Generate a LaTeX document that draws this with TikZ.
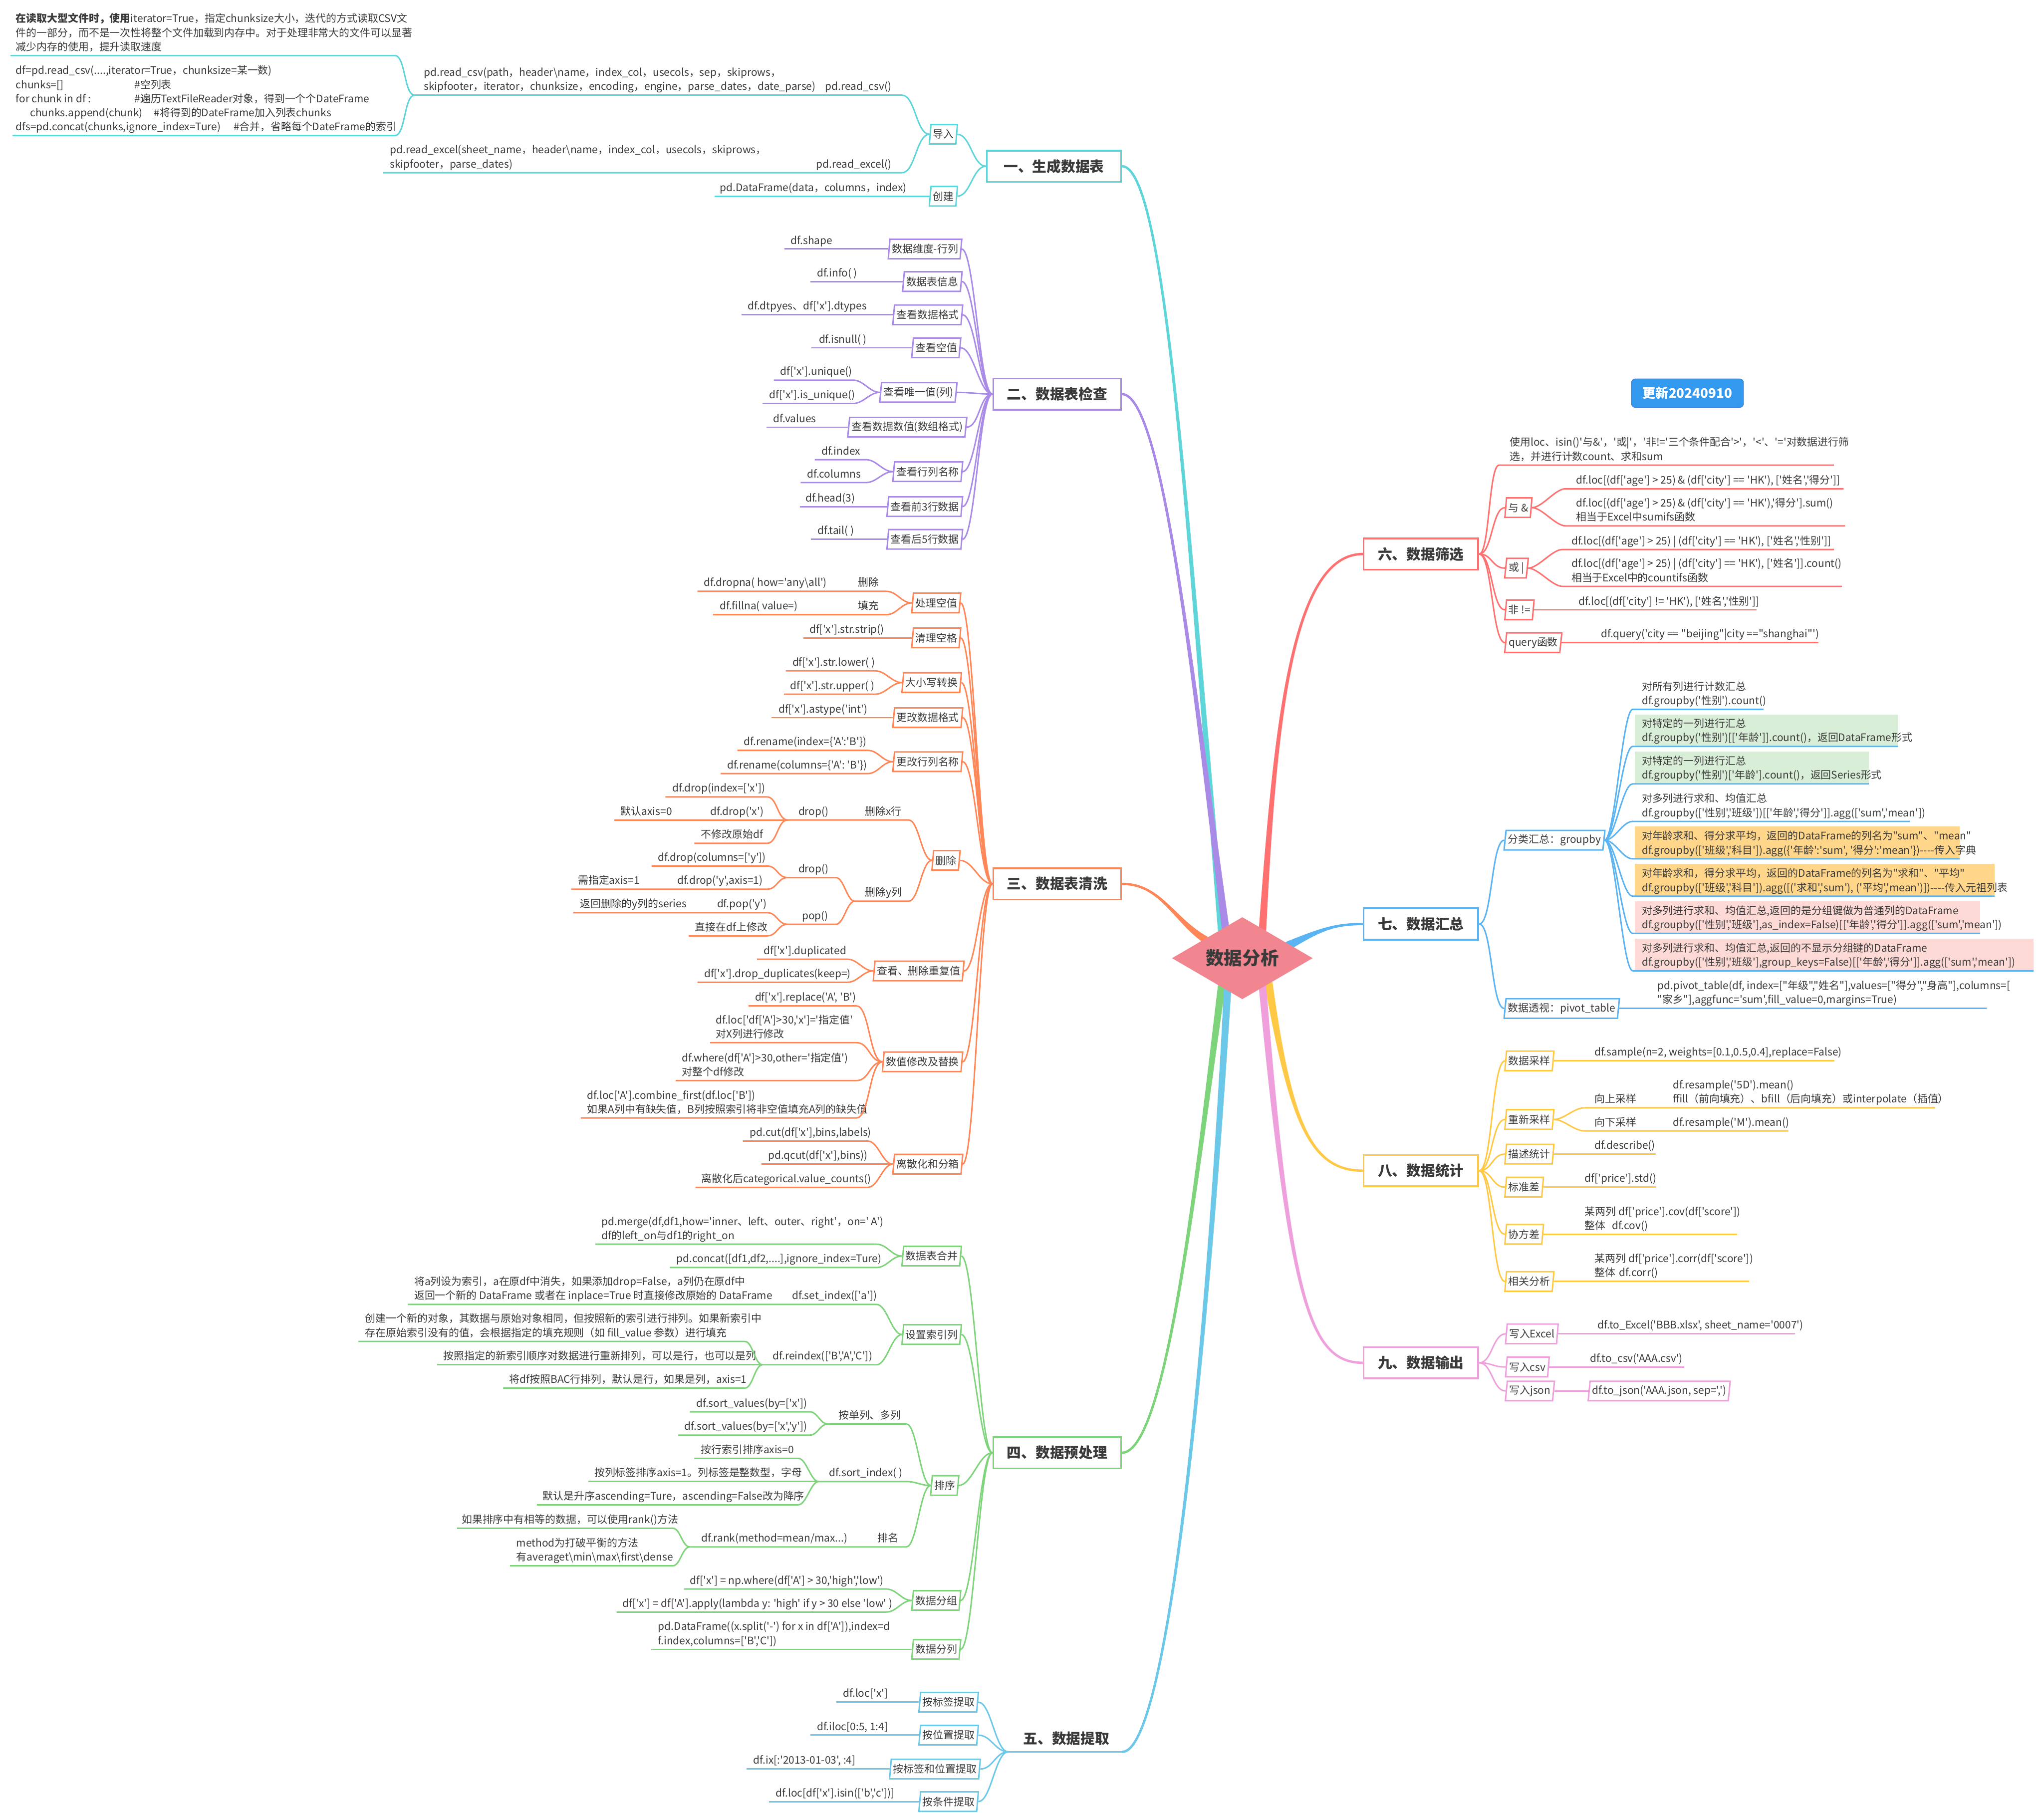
\documentclass[tikz,border=0pt]{standalone}
\usepackage{fontspec}
\setmainfont{Noto Sans CJK SC}[Ligatures=TeXOff]
\usetikzlibrary{shapes.geometric,backgrounds}

\definecolor{ink}{HTML}{3A3A3A}
\definecolor{c1}{HTML}{5ED5D8}
\definecolor{c2}{HTML}{A98AE6}
\definecolor{c3}{HTML}{FF8757}
\definecolor{c4}{HTML}{7ED47A}
\definecolor{c5}{HTML}{6CC8E8}
\definecolor{c6}{HTML}{FF7070}
\definecolor{c7}{HTML}{5AB3F2}
\definecolor{c8}{HTML}{FFC845}
\definecolor{c9}{HTML}{EFA0DC}
\definecolor{hubc}{HTML}{F28690}
\definecolor{badgec}{HTML}{3399EE}
\definecolor{gfill}{HTML}{D9EED6}
\definecolor{ofill}{HTML}{FFD68A}
\definecolor{pfill}{HTML}{FDDAD5}
\colorlet{br}{black}

\tikzset{
  leaf/.style={anchor=south west, inner sep=0pt, text depth=2pt, yshift=1.6pt,
    align=left, text=ink, font=\fontsize{8}{10.8}\selectfont},
  uline/.style={draw=br, line width=1.1pt, line join=round},
  brlink/.style={to path={.. controls +(#1,0) and +(-#1,0) .. (\tikztotarget)}},
  brlink/.default=10,
  subtopic/.style={trapezium, trapezium left angle=80, trapezium right angle=100,
    trapezium stretches=true, draw=br, fill=white, line width=1.1pt, text=ink,
    font=\fontsize{8}{10}\selectfont, inner xsep=1.5pt, inner ysep=0pt,
    minimum height=15pt, anchor=west},
  maintopic/.style={draw=br, fill=white, line width=1.4pt, text=ink,
    font=\fontsize{11}{13}\selectfont\bfseries, minimum height=24pt, inner xsep=8pt},
  trunk/.style={line width=1.8pt, line join=round},
  hub/.style={diamond, aspect=2, fill=hubc, text=ink, font=\fontsize{14}{16}\selectfont\bfseries,
    minimum width=108pt, minimum height=63pt, inner sep=0pt},
  badge/.style={rounded corners=3pt, fill=badgec, draw=badgec!80!violet, text=white,
    font=\fontsize{10}{12}\selectfont\bfseries, minimum width=86pt, minimum height=22pt}
}

% name, line start x, line end x, line y, text x, text
\newcommand{\mmleaf}[7][]{%
  \coordinate (#2l) at (#3,#5);
  \coordinate (#2r) at (#4,#5);
  \node[leaf,#1] (#2) at (#6,#5) {#7};
}

\begin{document}
\begin{tikzpicture}[x=1pt,y=-1pt]
  \useasboundingbox (0,0) rectangle (1568,1396);

  \node[hub] (root) at (953,735) {数据分析};
  \node[badge] (upd) at (1294.5,301.6) {更新20240910};

  % 一、生成数据表
  \begin{scope}
    \colorlet{br}{c1}
    \node[maintopic, minimum width=103pt] (t1) at (808.5,127.5) {一、生成数据表};
    \node[subtopic] (b11) at (713,103) {导入};
    \node[subtopic] (b12) at (713,150.5) {创建};
    \mmleaf[anchor=south east]{l11}{318}{692}{73}{684}{pd.read\_csv()}
    \node[leaf] (l11a) at (325,73) {pd.read\_csv(path，header\textbackslash name，index\_col，usecols，sep，skiprows，\\skipfooter，iterator，chunksize，encoding，engine，parse\_dates，date\_parse)};
    \mmleaf{l11b}{8}{303}{42.6}{12}{\textbf{在读取大型文件时，使用}iterator=True，指定chunksize大小，迭代的方式读取CSV文\\件的一部分，而不是一次性将整个文件加载到内存中。对于处理非常大的文件可以显著\\减少内存的使用，提升读取速度}
    \mmleaf{l11c}{9.5}{303}{104}{12}{df=pd.read\_csv(....,iterator=True，chunksize=某一数)\\\makebox[91pt][l]{chunks=[]}\#空列表\\\makebox[91pt][l]{for chunk in df :}\#遍历TextFileReader对象，得到一个个DateFrame\\\makebox[106pt][l]{\hspace{11pt}chunks.append(chunk)}\#将得到的DateFrame加入列表chunks\\\makebox[167pt][l]{dfs=pd.concat(chunks,ignore\_index=Ture)}\#合并，省略每个DateFrame的索引}
    \mmleaf[anchor=south east]{l12}{294}{692}{132.5}{684}{pd.read\_excel()}
    \node[leaf] (l12a) at (299,132.5) {pd.read\_excel(sheet\_name，header\textbackslash name，index\_col，usecols，skiprows，\\skipfooter，parse\_dates)};
    \mmleaf{l13}{548}{712}{150.5}{552}{pd.DataFrame(data，columns，index)}

    \draw[uline] (l11bl) -- (l11br) to[brlink=8] (l11l);
    \draw[uline] (l11cl) -- (l11cr) to[brlink=8] (l11l);
    \draw[uline] (l11l) -- (l11r) to[brlink=10] (b11.west);
    \draw[uline] (l12l) -- (l12r) to[brlink=10] (b11.west);
    \draw[uline] (l13l) -- (b12.west);
    \draw[uline] (b11.east) to[brlink] (t1.west);
    \draw[uline] (b12.east) to[brlink] (t1.west);
  \end{scope}

  % 二、数据表检查
  \begin{scope}
    \colorlet{br}{c2}
    \node[maintopic, minimum width=98pt] (t2) at (811,302.3) {二、数据表检查};
    \node[subtopic] (b21) at (681.5,191) {数据维度-行列};
    \node[subtopic] (b22) at (692.5,216) {数据表信息};
    \node[subtopic] (b23) at (685,241.5) {查看数据格式};
    \node[subtopic] (b24) at (699.5,266.8) {查看空值};
    \node[subtopic] (b25) at (675,301) {查看唯一值(列)};
    \node[subtopic] (b26) at (650.5,327.7) {查看数据数值(数组格式)};
    \node[subtopic] (b27) at (685,361.8) {查看行列名称};
    \node[subtopic] (b28) at (680.5,388.6) {查看前3行数据};
    \node[subtopic] (b29) at (680.5,413.7) {查看后5行数据};
    \mmleaf{l21}{601.6}{681.5}{191}{606.5}{df.shape}
    \mmleaf{l22}{621.8}{692.5}{216}{626.5}{df.info( )}
    \mmleaf{l23}{568.7}{685}{241.5}{573.5}{df.dtpyes、df['x'].dtypes}
    \mmleaf{l24}{622.6}{699.5}{266.8}{628}{df.isnull( )}
    \mmleaf{l25}{593.6}{654.5}{291.6}{598.4}{df['x'].unique()}
    \mmleaf{l26}{585}{654.5}{309.5}{590}{df['x'].is\_unique()}
    \mmleaf{l27}{588}{650.5}{327.7}{593}{df.values}
    \mmleaf{l28}{625}{664.3}{352.6}{630}{df.index}
    \mmleaf{l29}{614.2}{664.3}{370.2}{619}{df.columns}
    \mmleaf{l2a}{613.5}{680.5}{388.6}{617.8}{df.head(3)}
    \mmleaf{l2b}{622.2}{680.5}{413.7}{627}{df.tail( )}

    \foreach \lf/\bx in {l21/b21,l22/b22,l23/b23,l24/b24,l27/b26,l2a/b28,l2b/b29}
      \draw[uline] (\lf l) -- (\bx.west);
    \draw[uline] (l25l) -- (l25r) to[brlink=8] (b25.west);
    \draw[uline] (l26l) -- (l26r) to[brlink=8] (b25.west);
    \draw[uline] (l28l) -- (l28r) to[brlink=8] (b27.west);
    \draw[uline] (l29l) -- (l29r) to[brlink=8] (b27.west);
    \foreach \bx in {b21,b22,b23,b24,b25,b26,b27,b28,b29}
      \draw[uline] (\bx.east) to[brlink] (t2.west);
  \end{scope}

  % 三、数据表清洗
  \begin{scope}
    \colorlet{br}{c3}
    \node[maintopic, minimum width=98pt] (t3) at (811,678) {三、数据表清洗};
    \node[subtopic] (b31) at (699.5,462.5) {处理空值};
    \node[subtopic] (b32) at (699.5,489.3) {清理空格};
    \node[subtopic] (b33) at (692,523.6) {大小写转换};
    \node[subtopic] (b34) at (685,550.5) {更改数据格式};
    \node[subtopic] (b35) at (685,584.3) {更改行列名称};
    \node[subtopic] (b36) at (715,660) {删除};
    \node[subtopic] (b37) at (670,744.8) {查看、删除重复值};
    \node[subtopic] (b38) at (677,814.5) {数值修改及替换};
    \node[subtopic] (b39) at (685,893) {离散化和分箱};
    \mmleaf{l31}{535}{680}{453.6}{539.8}{df.dropna( how='any\textbackslash all')}
    \node[leaf] (l31a) at (658,453.6) {删除};
    \mmleaf{l32}{547}{680}{471.5}{552}{df.fillna( value=)}
    \node[leaf] (l32a) at (658,471.5) {填充};
    \mmleaf{l33}{616.2}{699.5}{489.3}{620.8}{df['x'].str.strip()}
    \mmleaf{l34}{602.8}{671.4}{514.6}{607.7}{df['x'].str.lower( )}
    \mmleaf{l35}{601.3}{671.4}{532.5}{606}{df['x'].str.upper( )}
    \mmleaf{l36}{592}{685}{550.5}{597}{df['x'].astype('int')}
    \mmleaf{l37}{565.6}{665.7}{575.6}{570.5}{df.rename(index=\{'A':'B'\})}
    \mmleaf{l38}{552.8}{665.7}{593.4}{557.6}{df.rename(columns=\{'A': 'B'\})}
    \mmleaf{l3x}{604.3}{697}{629}{663.4}{删除x行}
    \node[leaf] (l3xa) at (612.3,629) {drop()};
    \mmleaf{l3x1}{510.4}{588.4}{611.3}{515.6}{df.drop(index=['x'])}
    \mmleaf{l3x2}{471.2}{604.3}{629}{544.7}{df.drop('x')}
    \node[leaf] (l3x2a) at (476,629) {默认axis=0};
    \mmleaf{l3x3}{532.6}{588.4}{646.9}{537.5}{不修改原始df}
    \mmleaf{l3y}{655.7}{697}{691.3}{663.4}{删除y列}
    \mmleaf{l3y1}{604.3}{641.3}{673.2}{612.3}{drop()}
    \mmleaf{l3y2}{604.3}{641.3}{709}{615}{pop()}
    \mmleaf{l3y11}{499.9}{588.4}{664.3}{504.6}{df.drop(columns=['y'])}
    \mmleaf{l3y12}{438.3}{588.4}{682.1}{519.3}{df.drop('y',axis=1)}
    \node[leaf] (l3y12a) at (443.2,682.1) {需指定axis=1};
    \mmleaf{l3y21}{439.8}{588.4}{700.1}{549.9}{df.pop('y')}
    \node[leaf] (l3y21a) at (444.7,700.1) {返回删除的y列的series};
    \mmleaf{l3y22}{528.3}{588.4}{717.9}{533}{直接在df上修改}
    \mmleaf{l39}{580.8}{650}{735.8}{585.6}{df['x'].duplicated}
    \mmleaf{l3a}{535}{650}{753.5}{540}{df['x'].drop\_duplicates(keep=)}
    \mmleaf{l3b}{574.2}{657}{771.6}{579}{df['x'].replace('A', 'B')}
    \mmleaf{l3c}{544.7}{657}{799.8}{548.9}{df.loc['df['A']>30,'x']='指定值'\\对X列进行修改}
    \mmleaf{l3d}{518.4}{657}{828.9}{523}{df.where(df['A']>30,other='指定值')\\对整个df修改}
    \mmleaf{l3e}{445.5}{657}{857.6}{450.3}{df.loc['A'].combine\_first(df.loc['B'])\\如果A列中有缺失值，B列按照索引将非空值填充A列的缺失值}
    \mmleaf{l3f}{569.9}{665.7}{875.3}{575}{pd.cut(df['x'],bins,labels)}
    \mmleaf{l3g}{584.1}{685}{893}{589}{pd.qcut(df['x'],bins))}
    \mmleaf{l3h}{533.5}{665.7}{910.8}{538}{离散化后categorical.value\_counts()}

    \draw[uline] (l31l) -- (l31r) to[brlink=8] (b31.west);
    \draw[uline] (l32l) -- (l32r) to[brlink=8] (b31.west);
    \draw[uline] (l33l) -- (b32.west);
    \draw[uline] (l34l) -- (l34r) to[brlink=8] (b33.west);
    \draw[uline] (l35l) -- (l35r) to[brlink=8] (b33.west);
    \draw[uline] (l36l) -- (b34.west);
    \draw[uline] (l37l) -- (l37r) to[brlink=8] (b35.west);
    \draw[uline] (l38l) -- (l38r) to[brlink=8] (b35.west);
    \draw[uline] (l3xl) -- (l3xr) to[brlink=8] (b36.west);
    \draw[uline] (l3yl) -- (l3yr) to[brlink=8] (b36.west);
    \draw[uline] (l3x1l) -- (l3x1r) to[brlink=8] (l3xl);
    \draw[uline] (l3x2l) -- (l3x2r);
    \draw[uline] (l3x3l) -- (l3x3r) to[brlink=8] (l3xl);
    \draw[uline] (l3y1l) -- (l3y1r) to[brlink=6] (l3yl);
    \draw[uline] (l3y2l) -- (l3y2r) to[brlink=6] (l3yl);
    \draw[uline] (l3y11l) -- (l3y11r) to[brlink=8] (l3y1l);
    \draw[uline] (l3y12l) -- (l3y12r) to[brlink=8] (l3y1l);
    \draw[uline] (l3y21l) -- (l3y21r) to[brlink=8] (l3y2l);
    \draw[uline] (l3y22l) -- (l3y22r) to[brlink=8] (l3y2l);
    \draw[uline] (l39l) -- (l39r) to[brlink=8] (b37.west);
    \draw[uline] (l3al) -- (l3ar) to[brlink=8] (b37.west);
    \foreach \lf in {l3b,l3c,l3d,l3e}
      \draw[uline] (\lf l) -- (\lf r) to[brlink=10] (b38.west);
    \draw[uline] (l3fl) -- (l3fr) to[brlink=8] (b39.west);
    \draw[uline] (l3gl) -- (b39.west);
    \draw[uline] (l3hl) -- (l3hr) to[brlink=8] (b39.west);
    \foreach \bx in {b31,b32,b33,b34,b35,b36,b37,b38,b39}
      \draw[uline] (\bx.east) to[brlink] (t3.west);
  \end{scope}

  % 四、数据预处理
  \begin{scope}
    \colorlet{br}{c4}
    \node[maintopic, minimum width=98pt] (t4) at (811,1114.4) {四、数据预处理};
    \node[subtopic] (b41) at (692,963.5) {数据表合并};
    \node[subtopic] (b42) at (692,1023.7) {设置索引列};
    \node[subtopic] (b43) at (714,1139.5) {排序};
    \node[subtopic] (b44) at (699.5,1227.7) {数据分组};
    \node[subtopic] (b45) at (699.5,1265.2) {数据分列};
    \mmleaf{l41}{456.7}{672.4}{954.4}{461.4}{pd.merge(df,df1,how='inner、left、outer、right'，on=' A')\\df的left\_on与df1的right\_on}
    \mmleaf{l42}{513.9}{672.4}{972.3}{518.8}{pd.concat([df1,df2,....],ignore\_index=Ture)}
    \mmleaf{l43}{312.9}{672.4}{1000.6}{607.5}{df.set\_index(['a'])}
    \node[leaf] (l43a) at (317.6,1000.6) {将a列设为索引，a在原df中消失，如果添加drop=False，a列仍在原df中\\返回一个新的 DataFrame 或者在 inplace=True 时直接修改原始的 DataFrame};
    \mmleaf{l44}{585}{672.4}{1046.9}{592.7}{df.reindex(['B','A','C'])}
    \mmleaf{l441}{274.8}{571.4}{1029}{280}{创建一个新的对象，其数据与原始对象相同，但按照新的索引进行排列。如果新索引中\\存在原始索引没有的值，会根据指定的填充规则（如 fill\_value 参数）进行填充}
    \mmleaf{l442}{335.5}{585}{1046.9}{340}{按照指定的新索引顺序对数据进行重新排列，可以是行，也可以是列}
    \mmleaf{l443}{386}{571.4}{1064.8}{390.6}{将df按照BAC行排列，默认是行，如果是列，axis=1}
    \mmleaf{l45}{635}{695.3}{1092.3}{643}{按单列、多列}
    \mmleaf{l451}{529.2}{621.2}{1083}{534}{df.sort\_values(by=['x'])}
    \mmleaf{l452}{520.3}{621.2}{1100.9}{525}{df.sort\_values(by=['x','y'])}
    \mmleaf{l46}{628}{695.3}{1136.5}{636}{df.sort\_index( )}
    \mmleaf{l461}{532.6}{612.5}{1118.7}{537.5}{按行索引排序axis=0}
    \mmleaf{l462}{451.3}{628}{1136.5}{455.8}{按列标签排序axis=1。列标签是整数型，字母}
    \mmleaf{l463}{411.9}{612.5}{1154.3}{416.2}{默认是升序ascending=Ture，ascending=False改为降序}
    \mmleaf{l47}{529.2}{695.3}{1186.6}{673}{排名}
    \node[leaf] (l47a) at (537.8,1186.6) {df.rank(method=mean/max...)};
    \mmleaf{l471}{350.7}{516}{1172.3}{354}{如果排序中有相等的数据，可以使用rank()方法}
    \mmleaf{l472}{391.3}{516}{1201.1}{396}{method为打破平衡的方法\\有averaget\textbackslash min\textbackslash max\textbackslash first\textbackslash dense}
    \mmleaf{l48}{524.7}{679.8}{1218.9}{529.2}{df['x'] = np.where(df['A'] > 30,'high','low')}
    \mmleaf{l49}{473}{679.8}{1236.6}{477.5}{df['x'] = df['A'].apply(lambda y: 'high' if y > 30 else 'low' )}
    \mmleaf{l4a}{499.6}{699.5}{1265.2}{504.7}{pd.DataFrame((x.split('-') for x in df['A']),index=d\\f.index,columns=['B','C'])}

    \draw[uline] (l41l) -- (l41r) to[brlink=8] (b41.west);
    \draw[uline] (l42l) -- (l42r) to[brlink=8] (b41.west);
    \draw[uline] (l43l) -- (l43r) to[brlink=8] (b42.west);
    \draw[uline] (l44l) -- (l44r) to[brlink=8] (b42.west);
    \draw[uline] (l441l) -- (l441r) to[brlink=6] (l44l);
    \draw[uline] (l442l) -- (l442r);
    \draw[uline] (l443l) -- (l443r) to[brlink=6] (l44l);
    \draw[uline] (l45l) -- (l45r) to[brlink=8] (b43.west);
    \draw[uline] (l46l) -- (l46r) to[brlink=8] (b43.west);
    \draw[uline] (l47l) -- (l47r) to[brlink=8] (b43.west);
    \draw[uline] (l451l) -- (l451r) to[brlink=6] (l45l);
    \draw[uline] (l452l) -- (l452r) to[brlink=6] (l45l);
    \draw[uline] (l461l) -- (l461r) to[brlink=6] (l46l);
    \draw[uline] (l462l) -- (l462r);
    \draw[uline] (l463l) -- (l463r) to[brlink=6] (l46l);
    \draw[uline] (l471l) -- (l471r) to[brlink=6] (l47l);
    \draw[uline] (l472l) -- (l472r) to[brlink=6] (l47l);
    \draw[uline] (l48l) -- (l48r) to[brlink=8] (b44.west);
    \draw[uline] (l49l) -- (l49r) to[brlink=8] (b44.west);
    \draw[uline] (l4al) -- (b45.west);
    \foreach \bx in {b41,b42,b43,b44,b45}
      \draw[uline] (\bx.east) to[brlink] (t4.west);
  \end{scope}

  % 五、数据提取
  \begin{scope}
    \colorlet{br}{c5}
    \node[maintopic, draw=none, fill=none] (t5) at (818,1333.5) {五、数据提取};
    \coordinate (t5l) at (773.5,1343.8);
    \coordinate (t5r) at (861,1343.8);
    \node[subtopic] (b51) at (705,1305.7) {按标签提取};
    \node[subtopic] (b52) at (705,1331) {按位置提取};
    \node[subtopic] (b53) at (682.5,1357) {按标签和位置提取};
    \node[subtopic] (b54) at (705,1382) {按条件提取};
    \mmleaf{l51}{641.6}{705}{1305.7}{646.6}{df.loc['x']}
    \mmleaf{l52}{621.8}{705}{1331}{626.5}{df.iloc[0:5, 1:4]}
    \mmleaf{l53}{572.8}{682.5}{1357}{577.8}{df.ix[:'2013-01-03', :4]}
    \mmleaf{l54}{590}{705}{1382}{595}{df.loc[df['x'].isin(['b','c'])]}

    \foreach \lf/\bx in {l51/b51,l52/b52,l53/b53,l54/b54} {
      \draw[uline] (\lf l) -- (\bx.west);
      \draw[uline] (\bx.east) to[brlink] (t5l);
    }
    \draw[uline] (t5l) -- (t5r);
  \end{scope}

  % 六、数据筛选
  \begin{scope}
    \colorlet{br}{c6}
    \node[maintopic, minimum width=88pt] (t6) at (1090,425) {六、数据筛选};
    \node[subtopic] (b61) at (1154.5,389.4) {与 \&};
    \node[subtopic] (b62) at (1154.5,435.8) {或 |};
    \node[subtopic] (b63) at (1154.5,467.8) {非 !=};
    \node[subtopic] (b64) at (1154.5,493) {query函数};
    \mmleaf{l60}{1150}{1406.8}{356.8}{1158}{使用loc、isin()'与\&'，'或|'，'非!='三个条件配合'>'，'<'、'='对数据进行筛\\选，并进行计数count、求和sum}
    \mmleaf{l61}{1201}{1414.2}{374.9}{1209}{df.loc[(df['age'] > 25) \& (df['city'] == 'HK'), ['姓名','得分']]}
    \mmleaf{l62}{1201}{1415.4}{403.4}{1209}{df.loc[(df['age'] > 25) \& (df['city'] == 'HK'),'得分'].sum()\\相当于Excel中sumifs函数}
    \mmleaf{l63}{1198.6}{1406.8}{421.5}{1205.3}{df.loc[(df['age'] > 25) | (df['city'] == 'HK'), ['姓名','性别']]}
    \mmleaf{l64}{1198.6}{1413}{449.8}{1205.3}{df.loc[(df['age'] > 25) | (df['city'] == 'HK'), ['姓名']].count()\\相当于Excel中的countifs函数}
    \mmleaf{l65}{1186}{1347.6}{467.8}{1211}{df.loc[(df['city'] != 'HK'), ['姓名','性别']]}
    \mmleaf{l66}{1203}{1395}{493}{1228}{df.query('city == "beijing"|city =="shanghai"')}

    \draw[uline] (t6.east) to[brlink=8] (l60l) -- (l60r);
    \draw[uline] (b61.east) to[brlink=8] (l61l) -- (l61r);
    \draw[uline] (b61.east) to[brlink=8] (l62l) -- (l62r);
    \draw[uline] (b62.east) to[brlink=8] (l63l) -- (l63r);
    \draw[uline] (b62.east) to[brlink=8] (l64l) -- (l64r);
    \draw[uline] (b63.east) -- (l65r);
    \draw[uline] (b64.east) -- (l66r);
    \foreach \bx in {b61,b62,b63,b64}
      \draw[uline] (t6.east) to[brlink] (\bx.west);
  \end{scope}

  % 七、数据汇总
  \begin{scope}
    \colorlet{br}{c7}
    \node[maintopic, minimum width=88pt] (t7) at (1090,708.8) {七、数据汇总};
    \node[subtopic] (b71) at (1154,644.5) {分类汇总：groupby};
    \node[subtopic] (b72) at (1154,773.6) {数据透视：pivot\_table};
    \fill[gfill] (1254,548) rectangle (1456,572.6);
    \fill[gfill] (1254,576.6) rectangle (1433.7,601.3);
    \fill[ofill] (1254,633.8) rectangle (1503.4,658.8);
    \fill[ofill] (1254,662.7) rectangle (1530,687.5);
    \fill[pfill] (1254,691.4) rectangle (1519,716);
    \fill[pfill] (1254,720) rectangle (1560,744.7);
    \mmleaf{l71}{1252.5}{1352.9}{544.1}{1259.3}{对所有列进行计数汇总\\df.groupby('性别').count()}
    \mmleaf{l72}{1252.5}{1456}{572.6}{1259.3}{对特定的一列进行汇总\\df.groupby('性别')[['年龄']].count()，返回DataFrame形式}
    \mmleaf{l73}{1252.5}{1433.7}{601.3}{1259.3}{对特定的一列进行汇总\\df.groupby('性别')['年龄'].count()，返回Series形式}
    \mmleaf{l74}{1252.5}{1465}{630.1}{1259.3}{对多列进行求和、均值汇总\\df.groupby(['性别','班级'])[['年龄','得分']].agg(['sum','mean'])}
    \mmleaf{l75}{1252.5}{1503.4}{658.8}{1259.3}{对年龄求和、得分求平均，返回的DataFrame的列名为"sum"、"mean"\\df.groupby(['班级','科目']).agg(\{'年龄':'sum', '得分':'mean'\})----传入字典}
    \mmleaf{l76}{1252.5}{1530}{687.5}{1259.3}{对年龄求和，得分求平均，返回的DataFrame的列名为"求和"、"平均"\\df.groupby(['班级','科目']).agg([('求和','sum'), ('平均','mean')])----传入元祖列表}
    \mmleaf{l77}{1252.5}{1519}{716}{1259.3}{对多列进行求和、均值汇总,返回的是分组键做为普通列的DataFrame\\df.groupby(['性别','班级'],as\_index=False)[['年龄','得分']].agg(['sum','mean'])}
    \mmleaf{l78}{1252.5}{1560}{744.7}{1259.3}{对多列进行求和、均值汇总,返回的不显示分组键的DataFrame\\df.groupby(['性别','班级'],group\_keys=False)[['年龄','得分']].agg(['sum','mean'])}
    \mmleaf{l79}{1245}{1524}{773.6}{1271.4}{pd.pivot\_table(df, index=["年级","姓名"],values=["得分","身高"],columns=[\\"家乡"],aggfunc='sum',fill\_value=0,margins=True)}

    \foreach \lf in {l71,l72,l73,l74,l75,l76,l77,l78}
      \draw[uline] (b71.east) to[brlink=8] (\lf l) -- (\lf r);
    \draw[uline] (b72.east) -- (l79r);
    \draw[uline] (t7.east) to[brlink] (b71.west);
    \draw[uline] (t7.east) to[brlink] (b72.west);
  \end{scope}

  % 八、数据统计
  \begin{scope}
    \colorlet{br}{c8}
    \node[maintopic, minimum width=88pt] (t8) at (1090,898) {八、数据统计};
    \node[subtopic] (b81) at (1154.5,813.8) {数据采样};
    \node[subtopic] (b82) at (1154.5,858.7) {重新采样};
    \node[subtopic] (b83) at (1154.5,885.3) {描述统计};
    \node[subtopic] (b84) at (1154.5,910.6) {标准差};
    \node[subtopic] (b85) at (1154.5,946.8) {协方差};
    \node[subtopic] (b86) at (1154.5,983) {相关分析};
    \mmleaf{l81}{1197.4}{1407.3}{813.8}{1223}{df.sample(n=2, weights=[0.1,0.5,0.4],replace=False)}
    \mmleaf{l82}{1215.4}{1484.5}{849.8}{1223}{向上采样}
    \node[leaf] (l82a) at (1283.1,849.8) {df.resample('5D').mean()\\ffill（前向填充）、bfill（后向填充）或interpolate（插值）};
    \mmleaf{l83}{1215.4}{1371.8}{867.5}{1223}{向下采样}
    \node[leaf] (l83a) at (1283.1,867.5) {df.resample('M').mean()};
    \mmleaf{l84}{1197.4}{1270.2}{885.3}{1223}{df.describe()}
    \mmleaf{l85}{1190.5}{1270.2}{910.6}{1215.4}{df['price'].std()}
    \mmleaf{l86}{1190.5}{1332.7}{946.8}{1215.4}{某两列\hspace{2pt}df['price'].cov(df['score'])\\整体\hspace{5pt}df.cov()}
    \mmleaf{l87}{1197.4}{1341.7}{983}{1223}{某两列\hspace{2pt}df['price'].corr(df['score'])\\整体\hspace{3pt}df.corr()}

    \draw[uline] (b81.east) -- (l81r);
    \draw[uline] (b82.east) to[brlink=8] (l82l) -- (l82r);
    \draw[uline] (b82.east) to[brlink=8] (l83l) -- (l83r);
    \draw[uline] (b83.east) -- (l84r);
    \draw[uline] (b84.east) -- (l85r);
    \draw[uline] (b85.east) -- (l86r);
    \draw[uline] (b86.east) -- (l87r);
    \foreach \bx in {b81,b82,b83,b84,b85,b86}
      \draw[uline] (t8.east) to[brlink] (\bx.west);
  \end{scope}

  % 九、数据输出
  \begin{scope}
    \colorlet{br}{c9}
    \node[maintopic, minimum width=88pt] (t9) at (1090,1045.4) {九、数据输出};
    \node[subtopic] (b91) at (1155,1023.2) {写入Excel};
    \node[subtopic] (b92) at (1155,1048.6) {写入csv};
    \node[subtopic] (b93) at (1155,1067) {写入json};
    \node[subtopic] (b94) at (1218.5,1067) {df.to\_json('AAA.json, sep=',')};
    \mmleaf{l91}{1199.7}{1377.1}{1023.2}{1225.5}{df.to\_Excel('BBB.xlsx', sheet\_name='0007')}
    \mmleaf{l92}{1193}{1291.9}{1048.6}{1219.5}{df.to\_csv('AAA.csv')}

    \draw[uline] (b91.east) -- (l91r);
    \draw[uline] (b92.east) -- (l92r);
    \draw[uline] (b93.east) -- (b94.west);
    \foreach \bx in {b91,b92,b93}
      \draw[uline] (t9.east) to[brlink] (\bx.west);
  \end{scope}

  % Trunks, tapering into the hub
  \begin{scope}[on background layer]
    \fill[white] (0,0) rectangle (1568,1396);
    \filldraw[trunk, c1] (t1.east) .. controls (895,128) and (912,420) .. (root.121)
      -- (root.130) .. controls (912,420) and (895,128) .. (t1.east) -- cycle;
    \filldraw[trunk, c2] (t2.east) .. controls (892,303) and (915,520) .. (root.114)
      -- (root.123) .. controls (915,520) and (892,303) .. (t2.east) -- cycle;
    \filldraw[trunk, c3] (t3.east) .. controls (890,678) and (900,705) .. (root.150)
      -- (root.156) .. controls (900,705) and (890,678) .. (t3.east) -- cycle;
    \filldraw[trunk, c4] (t4.east) .. controls (895,1114) and (918,900) .. (root.230)
      -- (root.239) .. controls (918,900) and (895,1114) .. (t4.east) -- cycle;
    \filldraw[trunk, c5] (t5r) .. controls (895,1344) and (925,1050) .. (root.241)
      -- (root.250) .. controls (925,1050) and (895,1344) .. (t5r) -- cycle;
    \filldraw[trunk, c6] (root.51) .. controls (978,560) and (990,425) .. (t6.west)
      .. controls (990,425) and (978,560) .. (root.60) -- cycle;
    \filldraw[trunk, c7] (root.13) .. controls (1015,712) and (1025,709) .. (t7.west)
      .. controls (1025,709) and (1015,712) .. (root.19) -- cycle;
    \filldraw[trunk, c8] (root.-49) .. controls (990,860) and (1005,898) .. (t8.west)
      .. controls (1005,898) and (990,860) .. (root.-40) -- cycle;
    \filldraw[trunk, c9] (root.-60) .. controls (990,1000) and (1005,1045) .. (t9.west)
      .. controls (1005,1045) and (990,1000) .. (root.-51) -- cycle;
  \end{scope}
\end{tikzpicture}
\end{document}
